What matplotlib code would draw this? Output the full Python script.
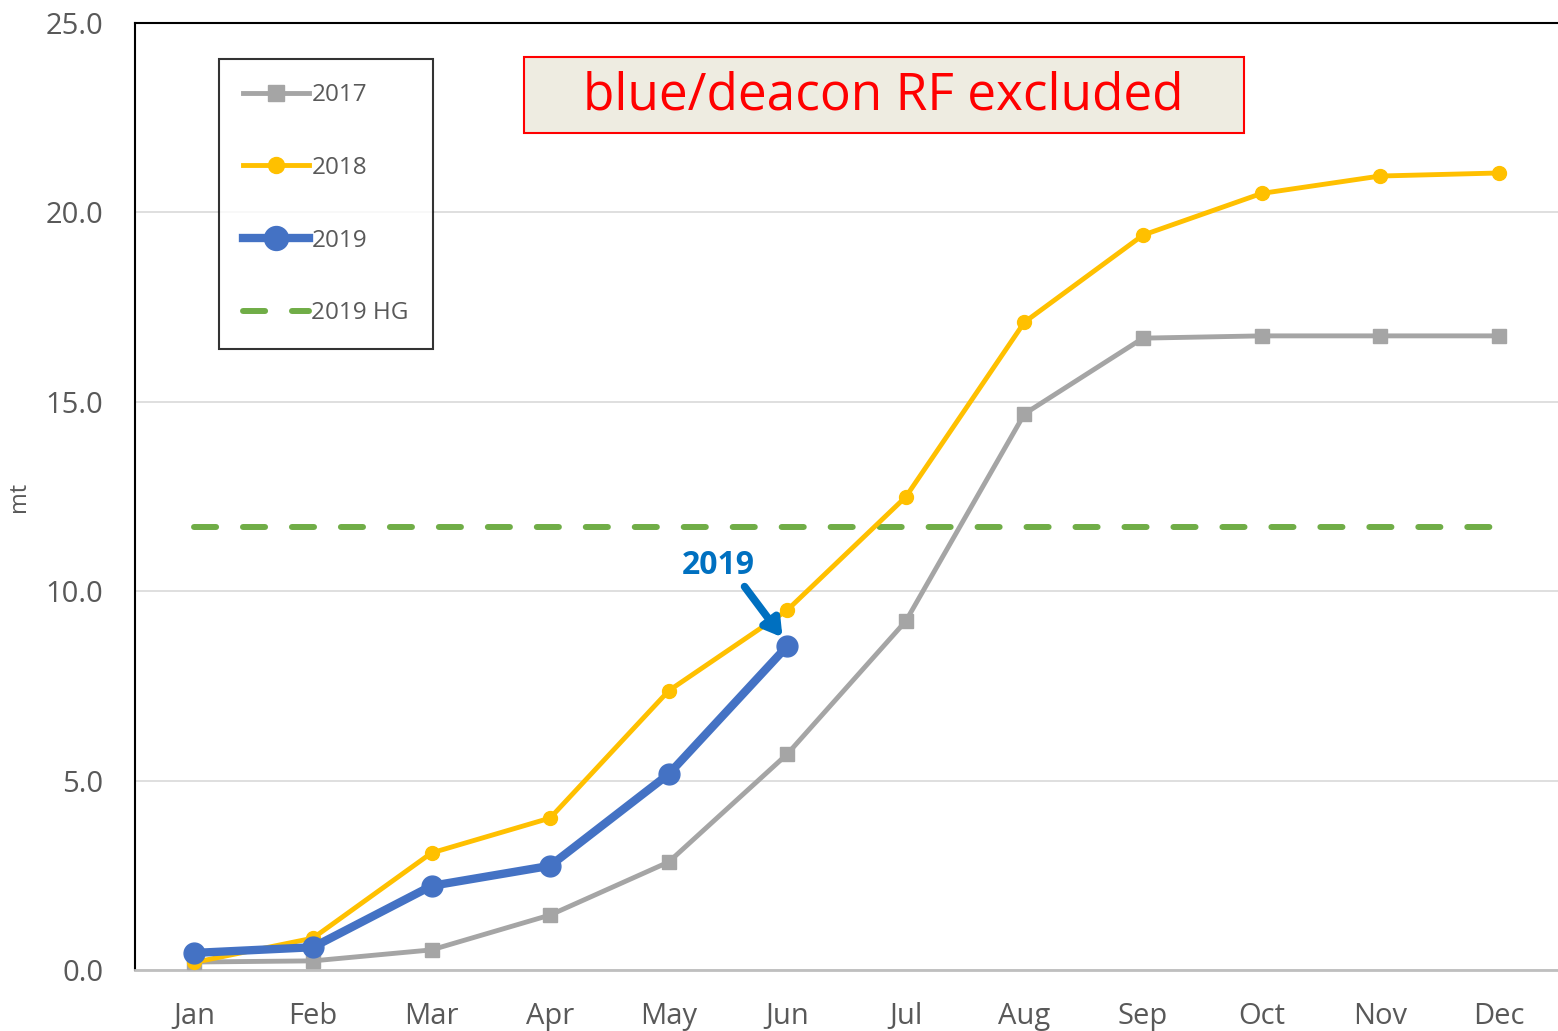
import matplotlib
matplotlib.use("Agg")
import matplotlib.pyplot as plt
from matplotlib.patches import Rectangle

plt.rcParams['font.family'] = ['Open Sans', 'DejaVu Sans']

months = ['Jan', 'Feb', 'Mar', 'Apr', 'May', 'Jun', 'Jul', 'Aug', 'Sep', 'Oct', 'Nov', 'Dec']
y2017 = [0.21, 0.24, 0.53, 1.45, 2.85, 5.70, 9.21, 14.68, 16.68, 16.74, 16.74, 16.74]
y2018 = [0.20, 0.84, 3.09, 4.01, 7.37, 9.50, 12.49, 17.10, 19.40, 20.50, 20.96, 21.04]
y2019 = [0.45, 0.60, 2.22, 2.75, 5.17, 8.55]
hg2019 = 11.69

txt = '#595959'
x = list(range(len(months)))

fig = plt.figure(figsize=(15.58, 10.31), dpi=100)
ax = fig.add_axes([0.0867, 0.0592, 0.9133, 0.9185])

ax.plot(x, y2017, color='#A5A5A5', lw=3.5, marker='s', ms=10, label='2017', zorder=3)
ax.plot(x, y2018, color='#FFC000', lw=3.5, marker='o', ms=10, label='2018', zorder=4)
ax.plot(x[:len(y2019)], y2019, color='#4472C4', lw=6, marker='o', ms=15, label='2019', zorder=5)
ax.plot(x, [hg2019] * len(x), color='#70AD47', lw=4.3, ls=(0, (3.7, 4.5)),
        dash_capstyle='round', label='2019 HG', zorder=2)

ax.set_xlim(-0.5, 11.5)
ax.set_ylim(0, 25)
ax.set_yticks([0, 5, 10, 15, 20, 25])
ax.set_yticklabels([f'{v:.1f}' for v in [0, 5, 10, 15, 20, 25]])
ax.set_xticks(x)
ax.set_xticklabels(months)
ax.tick_params(axis='both', length=0, labelsize=21, colors=txt)
ax.tick_params(axis='x', pad=23)
ax.tick_params(axis='y', pad=23)
ax.grid(axis='y', color='#D9D9D9', lw=1.2)
ax.set_axisbelow(True)
ax.set_ylabel('mt', fontsize=17, color=txt, labelpad=10)

ax.spines['right'].set_visible(False)
ax.spines['left'].set_color('black')
ax.spines['left'].set_linewidth(1.5)
ax.spines['top'].set_color('black')
ax.spines['top'].set_linewidth(1.5)
ax.spines['bottom'].set_color('#BFBFBF')
ax.spines['bottom'].set_linewidth(2)

leg = ax.legend(loc='upper left', bbox_to_anchor=(0.0590, 0.9620), fontsize=17.5,
                labelcolor=txt, frameon=True, fancybox=False, edgecolor='black',
                handlelength=2.7, handletextpad=0.1, labelspacing=2.0,
                borderpad=1.0, borderaxespad=0, markerscale=1.15)
leg.get_frame().set_linewidth(1.5)

# title box
ax.add_patch(Rectangle((0.2734, 0.8838), 0.5059, 0.0803, transform=ax.transAxes,
                       facecolor='#EEECE1', edgecolor='#FF0000', lw=1.5, zorder=6))
ax.text(0.526, 0.9225, 'blue/deacon RF excluded', transform=ax.transAxes,
        ha='center', va='center', fontsize=37, color='#FF0000', zorder=7)

ax.text(4.42, 10.69, '2019', fontsize=23, fontweight='bold', color='#0070C0',
        ha='center', va='center', zorder=7)
ax.annotate('', xy=(4.96, 8.78), xytext=(4.64, 10.12),
            arrowprops=dict(arrowstyle='-|>,head_width=0.6,head_length=1.0',
                            color='#0070C0', lw=5.5, shrinkA=0, shrinkB=0), zorder=7)

fig.savefig('out.png', dpi=100)
